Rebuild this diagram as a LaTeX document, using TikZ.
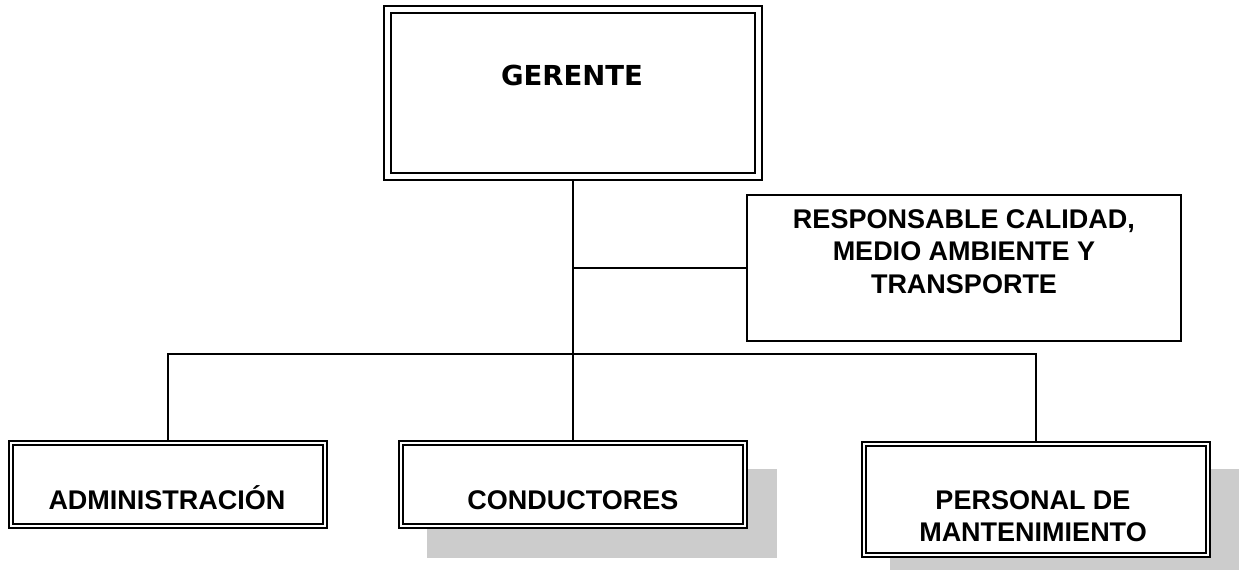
\documentclass[tikz,border=0pt]{standalone}
\usepackage{fontspec}
\newfontfamily\arialb{Liberation Sans}[BoldFont={Liberation Sans Bold}]
\newfontfamily\verdb{DejaVu Sans}[BoldFont={DejaVu Sans Bold}]
\begin{document}
\begin{tikzpicture}[x=1pt,y=-1pt,
  conn/.style={draw=black,line width=2pt},
  gbox/.style={draw=black,fill=white,double=white,line width=2pt,double distance=5pt,
     inner sep=0pt,outer sep=4.5pt,rectangle},
  dbox/.style={draw=black,fill=white,double=white,line width=1.9pt,double distance=2.1pt,
     inner sep=0pt,outer sep=2.95pt,rectangle},
  sbox/.style={draw=black,fill=white,line width=2pt,inner sep=0pt,rectangle},
  shade/.style={fill=black!20},
  lbl/.style={font=\arialb\bfseries\fontsize{27}{32.5}\selectfont,inner sep=0pt,align=center},
  glbl/.style={font=\verdb\bfseries\fontsize{27.5}{32}\selectfont,inner sep=0pt}
]
\useasboundingbox (0,0) rectangle (1243,580);
% shadows
\fill[shade] (427,469) rectangle (777,558);
\fill[shade] (890,469) rectangle (1239,570);
% boxes
\node[gbox,minimum width=371pt,minimum height=167pt] (ger) at (573,93.5) {};
\node[sbox,minimum width=434pt,minimum height=145pt] (resp) at (964,268) {};
\node[dbox,minimum width=313.5pt,minimum height=82.7pt] (adm) at (168,484.65) {};
\node[dbox,minimum width=343.5pt,minimum height=83pt] (cond) at (573,484.8) {};
\node[dbox,minimum width=343.3pt,minimum height=111.6pt] (pers) at (1036,499.5) {};
% texts
\node[glbl,anchor=base] (tger) at (572,86) {GERENTE};
\node[lbl,anchor=north] (tresp) at (964,209.3) {RESPONSABLE CALIDAD,\\MEDIO AMBIENTE Y\\TRANSPORTE};
\node[lbl,anchor=base] (tadm) at (167,509) {ADMINISTRACIÓN};
\node[lbl,anchor=base] (tcond) at (572.8,509.3) {CONDUCTORES};
\node[lbl,anchor=north] (tpers) at (1033,490) {PERSONAL DE\\MANTENIMIENTO};
% connectors
\coordinate (bar) at (0,354);
\draw[conn] (ger.south) -- (ger.south |- cond.north);
\draw[conn] (ger.south |- resp.west) -- (resp.west);
\draw[conn] (adm.north) -- (adm.north |- bar) -- (pers.north |- bar) -- (pers.north);
\end{tikzpicture}
\end{document}
